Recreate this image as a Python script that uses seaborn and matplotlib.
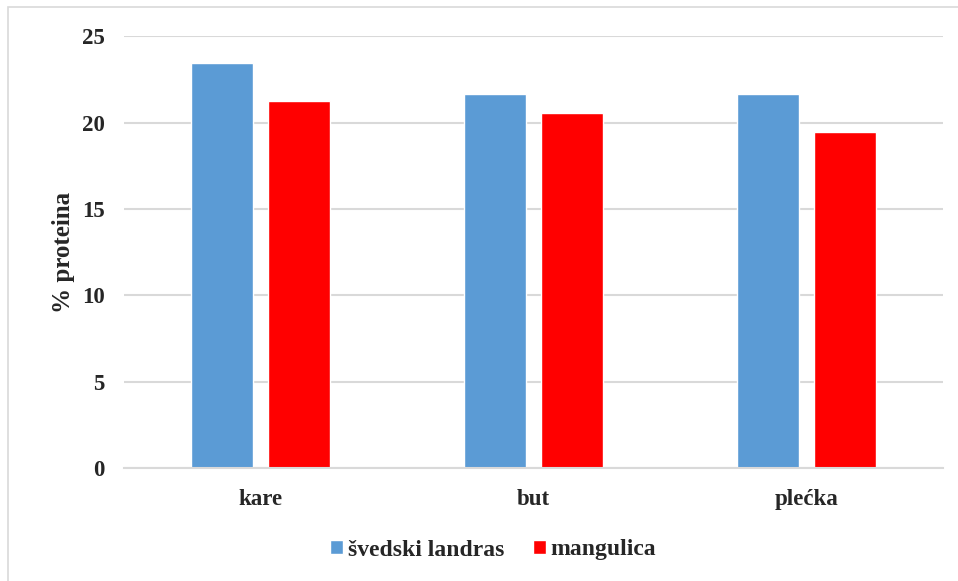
import matplotlib
matplotlib.use("Agg")
import matplotlib.pyplot as plt
import seaborn as sns
import pandas as pd
from matplotlib.patches import Rectangle

# data
cuts = ["kare", "but", "plećka"]
breeds = ["švedski landras", "mangulica"]
svedski = [23.44, 21.64, 21.66]
mangulica = [21.24, 20.54, 19.44]
yticks = [0, 5, 10, 15, 20, 25]

df = pd.DataFrame({
    "cut": cuts * 2,
    "breed": [breeds[0]] * 3 + [breeds[1]] * 3,
    "value": svedski + mangulica,
})

sns.set_theme(style="white")
plt.rcParams["font.family"] = ["Liberation Serif", "DejaVu Serif"]
plt.rcParams["font.weight"] = "bold"

fig = plt.figure(figsize=(9.58, 5.81), dpi=100)
ax = fig.add_axes([0.1294, 0.194, 0.855, 0.7435])

sns.barplot(
    data=df, x="cut", y="value", hue="breed",
    palette=["#5B9BD5", "#FF0000"], width=0.566, gap=0.2,
    saturation=1, ax=ax, legend=True,
)

ax.set_ylim(0, 25)
ax.set_yticks(yticks)
ax.set_yticklabels([str(t) for t in yticks], fontsize=16.5, fontweight="bold")
ax.set_xticks(range(len(cuts)))
ax.set_xticklabels(cuts, fontsize=16.5, fontweight="bold")
ax.set_xlim(-0.5, 2.5)
ax.tick_params(axis="y", length=0, pad=14)
ax.tick_params(axis="x", length=0, pad=15)
ax.set_xlabel("")
ax.set_ylabel("% proteina", fontsize=18, fontweight="bold", labelpad=5)

ax.yaxis.grid(True, color="#d9d9d9", linewidth=1.5)
ax.set_axisbelow(True)
for side in ["top", "right", "left"]:
    ax.spines[side].set_visible(False)
ax.spines["bottom"].set_color("#d9d9d9")
ax.spines["bottom"].set_linewidth(1.5)

handles, labels = ax.get_legend_handles_labels()
ax.legend_.remove()
fig.legend(
    handles, labels, loc="center", bbox_to_anchor=(493 / 958, 1 - 550 / 581),
    ncol=2, frameon=False, prop={"size": 17, "weight": "bold"},
    handlelength=0.55, handleheight=0.55, handletextpad=0.2, columnspacing=1.2,
)

# outer chart frame
fig.patches.append(Rectangle((8 / 958, -0.01), 1.0, 1 - 7 / 581 + 0.01,
                             transform=fig.transFigure, fill=False,
                             edgecolor="#d9d9d9", linewidth=1.2))

fig.savefig("out.png", dpi=100)
